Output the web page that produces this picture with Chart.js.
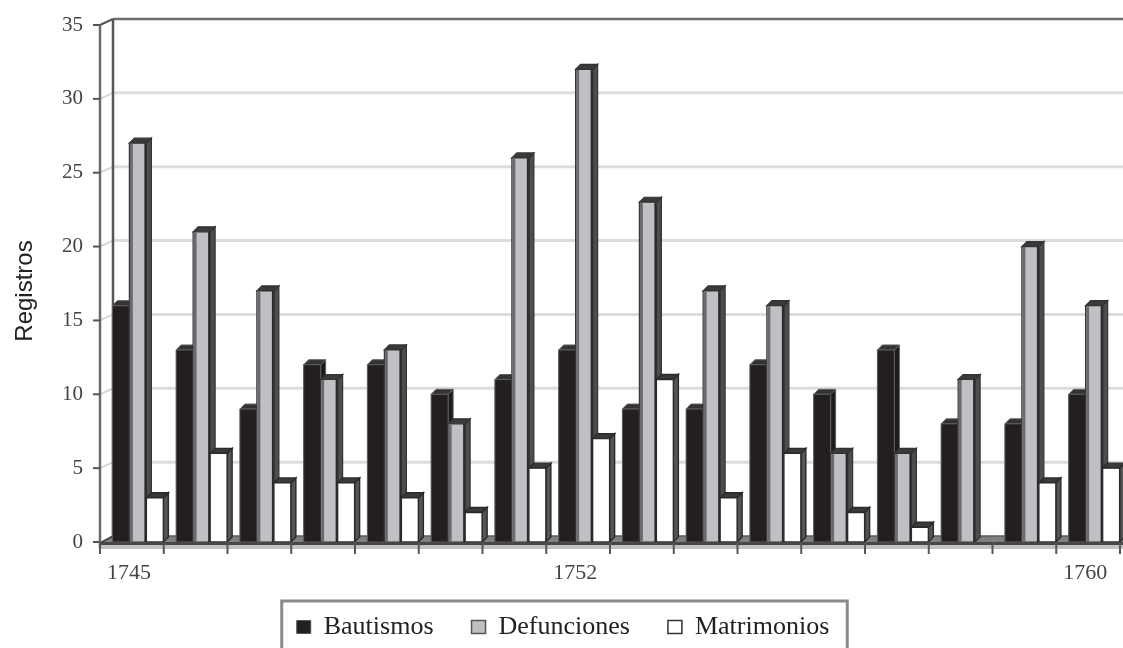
<!DOCTYPE html>
<html lang="es">
<head>
<meta charset="utf-8">
<title>Registros parroquiales 1745-1760</title>
<script src="https://cdn.jsdelivr.net/npm/chart.js@4.4.1/dist/chart.umd.min.js"></script>
<style>
  html, body { margin: 0; padding: 0; background: #ffffff; overflow: hidden; }
  #wrap { width: 1123px; height: 648px; overflow: hidden; position: relative; }
  canvas { display: block; }
</style>
</head>
<body>
<div id="wrap"><canvas id="chart" width="1150" height="660"></canvas></div>
<script>
// Years and yearly counts of parish records
const years = ['1745','1746','1747','1748','1749','1750','1751','1752',
               '1753','1754','1755','1756','1757','1758','1759','1760'];
const bautismos   = [16, 13,  9, 12, 12, 10, 11, 13,  9,  9, 12, 10, 13,  8,  8, 10];
const defunciones = [27, 21, 17, 11, 13,  8, 26, 32, 23, 17, 16,  6,  6, 11, 20, 16];
const matrimonios = [ 3,  6,  4,  4,  3,  2,  5,  7, 11,  3,  6,  2,  1,  0,  4,  5];
const shownYears  = ['1745', '1752', '1760'];
const yTicks      = [0, 5, 10, 15, 20, 25, 30, 35];

// oblique depth of the back wall and of each column
const WALL = { dx: 13, dy: 6 };
const COL  = { dx: 5,  dy: 5 };
const SERIF = '"Liberation Serif", "Times New Roman", serif';

const faces = [
  { front: '#231f20', side: '#1c1c1c', top: '#333333', stroke: '#5e5e5e', lw: 1 },
  { front: '#bfc0c4', side: '#4d4d4d', top: '#3a3a3a', stroke: '#333333', lw: 1.2, stripe: '#6b6b6b' },
  { front: '#ffffff', side: '#555555', top: '#3a3a3a', stroke: '#2a2a2a', lw: 1.4 }
];

function poly(ctx, pts, fill, stroke, lw) {
  ctx.beginPath();
  ctx.moveTo(pts[0][0], pts[0][1]);
  for (let i = 1; i < pts.length; i++) ctx.lineTo(pts[i][0], pts[i][1]);
  ctx.closePath();
  if (fill) { ctx.fillStyle = fill; ctx.fill(); }
  if (stroke) { ctx.strokeStyle = stroke; ctx.lineWidth = lw; ctx.stroke(); }
}

function line(ctx, x1, y1, x2, y2, color, lw) {
  ctx.beginPath();
  ctx.moveTo(x1, y1);
  ctx.lineTo(x2, y2);
  ctx.strokeStyle = color;
  ctx.lineWidth = lw;
  ctx.stroke();
}

// Back wall, floor, axes and 3D column faces
const frame3d = {
  id: 'frame3d',
  beforeDatasetsDraw(chart) {
    const ctx = chart.ctx;
    const y = chart.scales.y, x = chart.scales.x;
    const ax = x.getPixelForValue(-0.5) - 6;          // front edge of the plot
    const right = chart.width + 20;
    const y0 = y.getPixelForValue(0);
    const yTop = y.getPixelForValue(35);
    ctx.save();
    // wall gridlines
    yTicks.forEach(v => {
      if (v === 0) return;
      const py = y.getPixelForValue(v);
      const last = v === 35;
      line(ctx, ax, py, ax + WALL.dx, py - WALL.dy, last ? '#555555' : '#d6d6d6', 2);
      line(ctx, ax + WALL.dx, py - WALL.dy, right, py - WALL.dy, last ? '#6e6e6e' : '#dcdcdc', last ? 2.5 : 3);
    });
    // floor
    poly(ctx, [[ax, y0 + 1], [ax + WALL.dx, y0 - WALL.dy], [right, y0 - WALL.dy], [right, y0 + 1]], '#7f7f7f', null, 0);
    line(ctx, ax + WALL.dx, y0 - WALL.dy, right, y0 - WALL.dy, '#5a5a5a', 1.5);
    line(ctx, ax, y0 + 1, ax + WALL.dx, y0 - WALL.dy, '#3c3c3c', 1.5);
    // wall corner
    line(ctx, ax + WALL.dx, yTop - WALL.dy, ax + WALL.dx, y0 - WALL.dy, '#575757', 2.5);
    // value axis and its tick marks
    line(ctx, ax, yTop, ax, y0 + 6, '#6a6a6a', 2.5);
    yTicks.forEach(v => {
      const py = y.getPixelForValue(v);
      line(ctx, ax - 7, py, ax, py, '#555555', 2);
    });
    ctx.restore();
  },
  afterDatasetsDraw(chart) {
    const ctx = chart.ctx;
    const metas = [0, 1, 2].map(i => chart.getDatasetMeta(i));
    ctx.save();
    for (let i = 0; i < years.length; i++) {
      metas.forEach((meta, d) => {
        const el = meta.data[i];
        const value = chart.data.datasets[d].data[i];
        if (!value) return;
        const p = el.getProps(['x', 'y', 'base', 'width'], true);
        const L = p.x - p.width / 2, R = p.x + p.width / 2, T = p.y, B = p.base;
        const f = faces[d];
        poly(ctx, [[R, T], [R + COL.dx, T - COL.dy], [R + COL.dx, B - COL.dy], [R, B]], f.side, f.stroke, f.lw);
        poly(ctx, [[L, T], [L + COL.dx, T - COL.dy], [R + COL.dx, T - COL.dy], [R, T]], f.top, f.stroke, f.lw);
        poly(ctx, [[L, T], [R, T], [R, B], [L, B]], f.front, f.stroke, f.lw);
        if (f.stripe) {
          ctx.fillStyle = f.stripe;
          ctx.fillRect(L + 0.5, T + 0.5, 3, B - T - 0.5);
          ctx.fillStyle = '#2b2b2b';
          ctx.fillRect(R - 2, T, 2, B - T);
        }
      });
    }
    // category axis
    const x = chart.scales.x, y = chart.scales.y;
    const y0 = y.getPixelForValue(0);
    const ax = x.getPixelForValue(-0.5) - 6;
    const right = chart.width + 20;
    line(ctx, ax, y0 + 1.5, right, y0 + 1.5, '#474747', 3);
    line(ctx, ax, y0 + 5, right, y0 + 5, '#c2c2c2', 4);
    for (let k = 0; k <= years.length; k++) {
      const px = x.getPixelForValue(k - 0.5) - 6;
      line(ctx, px, y0, px, y0 + 12, '#555555', 2);
    }
    // category labels
    ctx.font = '22px ' + SERIF;
    ctx.fillStyle = '#444444';
    ctx.textAlign = 'center';
    ctx.textBaseline = 'middle';
    years.forEach((label, i) => {
      if (shownYears.includes(label)) ctx.fillText(label, x.getPixelForValue(i) - 9, y0 + 31);
    });
    ctx.restore();
  },
  afterDraw(chart) {
    const ctx = chart.ctx;
    ctx.save();
    // axis title
    ctx.translate(25, 291);
    ctx.rotate(-Math.PI / 2);
    ctx.font = '24px "Liberation Sans", Arial, sans-serif';
    ctx.fillStyle = '#222222';
    ctx.textAlign = 'center';
    ctx.textBaseline = 'middle';
    ctx.fillText('Registros', 0, 0);
    ctx.restore();
    // frame round the legend
    const hb = chart.legend.legendHitBoxes;
    if (hb && hb.length) {
      const l = hb[0].left - 15;
      const r = hb[hb.length - 1].left + hb[hb.length - 1].width + 18;
      const t = hb[0].top + hb[0].height / 2 - 26;
      ctx.save();
      ctx.strokeStyle = '#8a8a8a';
      ctx.lineWidth = 3;
      ctx.strokeRect(l, t, r - l, 120);
      ctx.restore();
    }
  }
};

new Chart(document.getElementById('chart'), {
  type: 'bar',
  data: {
    labels: years,
    datasets: [
      { label: 'Bautismos',   data: bautismos,   backgroundColor: '#231f20', borderColor: '#555555', borderWidth: 1 },
      { label: 'Defunciones', data: defunciones, backgroundColor: '#bfc0c4', borderColor: '#555555', borderWidth: 1.5 },
      { label: 'Matrimonios', data: matrimonios, backgroundColor: '#ffffff', borderColor: '#333333', borderWidth: 1.5 }
    ]
  },
  options: {
    responsive: false,
    animation: false,
    events: [],
    categoryPercentage: 0.8,
    barPercentage: 1.0,
    layout: { padding: { left: 0, right: 24, top: 25, bottom: 10 } },
    plugins: {
      tooltip: { enabled: false },
      legend: {
        position: 'bottom',
        labels: {
          boxWidth: 14,
          boxHeight: 13,
          padding: 38,
          color: '#222222',
          font: { family: SERIF, size: 26 }
        }
      }
    },
    scales: {
      x: {
        offset: true,
        grid: { display: false, drawTicks: false },
        border: { display: false },
        ticks: { display: false },
        afterFit(scale) { scale.height = 34; }
      },
      y: {
        min: 0,
        max: 35,
        grid: { display: false, drawTicks: false },
        border: { display: false },
        ticks: {
          stepSize: 5,
          padding: 23,
          color: '#444444',
          font: { family: SERIF, size: 21 }
        },
        afterFit(scale) {
          scale.width = 106;
          scale.paddingTop = 0;
          scale.paddingBottom = 0;
        }
      }
    }
  },
  plugins: [frame3d]
});
</script>
</body>
</html>
